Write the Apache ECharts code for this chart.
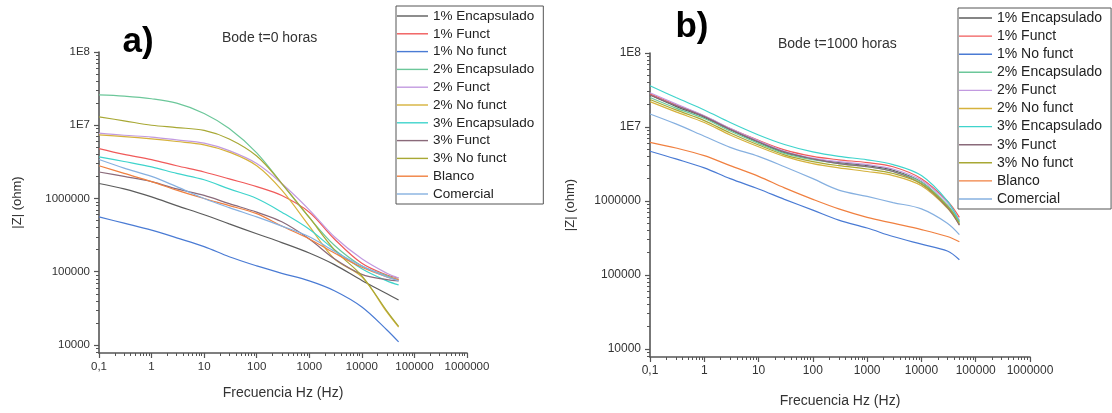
<!DOCTYPE html>
<html>
<head>
<meta charset="utf-8">
<script src="https://cdn.jsdelivr.net/npm/echarts@6/dist/echarts.min.js"></script>
<style>
  html, body { margin: 0; padding: 0; background: #fff; }
  #chart { width: 1112px; height: 413px; }
</style>
</head>
<body>
<div id="chart"></div>
<script>
// Frequencies (Hz) at which |Z| is tabulated
const freq = [0.1, 0.3, 1, 3, 10, 30, 100, 300, 1000, 3000, 10000, 30000, 50000];

const seriesNames = ['1% Encapsulado', '1% Funct', '1% No funct', '2% Encapsulado', '2% Funct',
  '2% No funct', '3% Encapsulado', '3% Funct', '3% No funct', 'Blanco', 'Comercial'];

const xTickLabels = ['0,1', '1', '10', '100', '1000', '10000', '100000', '1000000'];
const yTickLabels = ['10000', '100000', '1000000', '1E7', '1E8'];

// |Z| (ohm), t = 0 horas
const t0_enc1   = [1.6e6, 1.35e6, 1.05e6, 8.0e5, 6.0e5, 4.5e5, 3.3e5, 2.5e5, 1.8e5, 1.25e5, 7.6e4, 5.0e4, 4.1e4];
const t0_fun1   = [4.8e6, 4.0e6, 3.4e6, 2.8e6, 2.3e6, 1.85e6, 1.45e6, 1.1e6, 6.5e5, 2.8e5, 1.3e5, 9.0e4, 8.2e4];
const t0_nof1   = [5.6e5, 4.6e5, 3.7e5, 2.9e5, 2.2e5, 1.6e5, 1.2e5, 9.5e4, 7.5e4, 5.5e4, 3.3e4, 1.6e4, 1.1e4];
const t0_enc2   = [2.6e7, 2.5e7, 2.3e7, 2.0e7, 1.45e7, 9.0e6, 4.2e6, 1.6e6, 5.5e5, 2.3e5, 1.2e5, 8.8e4, 7.8e4];
const t0_fun2   = [7.8e6, 7.3e6, 6.9e6, 6.3e6, 5.7e6, 4.5e6, 3.0e6, 1.6e6, 7.0e5, 3.0e5, 1.5e5, 9.5e4, 8.2e4];
const t0_nof2   = [7.4e6, 7.0e6, 6.5e6, 6.0e6, 5.4e6, 4.3e6, 2.8e6, 1.3e6, 4.2e5, 1.5e5, 8.5e4, 2.8e4, 1.75e4];
const t0_enc3   = [3.7e6, 3.2e6, 2.7e6, 2.2e6, 1.8e6, 1.35e6, 1.0e6, 6.5e5, 3.8e5, 2.0e5, 1.1e5, 7.5e4, 6.6e4];
const t0_fun3   = [2.3e6, 2.0e6, 1.7e6, 1.35e6, 1.1e6, 8.5e5, 6.5e5, 4.8e5, 2.8e5, 1.5e5, 9.2e4, 7.8e4, 7.5e4];
const t0_nof3   = [1.3e7, 1.15e7, 1.0e7, 9.3e6, 8.5e6, 6.5e6, 3.8e6, 1.6e6, 5.5e5, 2.0e5, 8.8e4, 2.9e4, 1.8e4];
const t0_blanco = [2.8e6, 2.2e6, 1.7e6, 1.3e6, 1.0e6, 8.0e5, 6.2e5, 4.2e5, 2.8e5, 1.8e5, 1.15e5, 8.5e4, 7.8e4];
const t0_comer  = [3.4e6, 2.6e6, 2.0e6, 1.45e6, 1.0e6, 7.5e5, 5.6e5, 4.2e5, 3.0e5, 1.9e5, 1.2e5, 8.5e4, 7.5e4];

// |Z| (ohm), t = 1000 horas
const t1000_enc1   = [2.7e7, 1.9e7, 1.35e7, 9.2e6, 6.2e6, 4.5e6, 3.7e6, 3.3e6, 3.0e6, 2.6e6, 1.8e6, 8.5e5, 4.8e5];
const t1000_fun1   = [2.8e7, 2.0e7, 1.4e7, 9.5e6, 6.6e6, 4.9e6, 4.0e6, 3.6e6, 3.3e6, 2.9e6, 2.0e6, 1.0e6, 6.0e5];
const t1000_nof1   = [4.7e6, 3.7e6, 2.8e6, 2.0e6, 1.45e6, 1.05e6, 7.5e5, 5.5e5, 4.3e5, 3.3e5, 2.6e5, 2.1e5, 1.6e5];
const t1000_enc2   = [2.5e7, 1.8e7, 1.3e7, 8.8e6, 6.0e6, 4.4e6, 3.6e6, 3.2e6, 2.9e6, 2.5e6, 1.8e6, 8.8e5, 5.3e5];
const t1000_fun2   = [2.9e7, 2.05e7, 1.42e7, 9.6e6, 6.5e6, 4.7e6, 3.8e6, 3.4e6, 3.1e6, 2.7e6, 1.9e6, 9.5e5, 5.5e5];
const t1000_nof2   = [2.2e7, 1.6e7, 1.15e7, 7.8e6, 5.4e6, 4.0e6, 3.2e6, 2.8e6, 2.5e6, 2.2e6, 1.6e6, 8.0e5, 4.8e5];
const t1000_enc3   = [3.6e7, 2.5e7, 1.7e7, 1.15e7, 7.8e6, 5.8e6, 4.6e6, 4.0e6, 3.6e6, 3.1e6, 2.2e6, 1.0e6, 5.2e5];
const t1000_fun3   = [2.7e7, 1.95e7, 1.38e7, 9.3e6, 6.3e6, 4.6e6, 3.7e6, 3.2e6, 2.9e6, 2.5e6, 1.7e6, 8.2e5, 4.7e5];
const t1000_nof3   = [2.35e7, 1.7e7, 1.22e7, 8.3e6, 5.7e6, 4.2e6, 3.4e6, 3.0e6, 2.7e6, 2.35e6, 1.7e6, 8.5e5, 5.0e5];
const t1000_blanco = [6.2e6, 5.2e6, 4.1e6, 3.0e6, 2.15e6, 1.5e6, 1.05e6, 7.8e5, 6.0e5, 5.0e5, 4.1e5, 3.3e5, 2.8e5];
const t1000_comer  = [1.5e7, 1.1e7, 7.5e6, 5.3e6, 4.0e6, 2.9e6, 2.0e6, 1.4e6, 1.15e6, 9.5e5, 7.8e5, 5.0e5, 3.5e5];

const seriesColors = ['#5c5c5c', '#f05a5a', '#4a7bd4', '#6cc79a', '#c29ae0',
  '#d6b23c', '#3fd4cc', '#8a6a7a', '#a8a834', '#f08040', '#86b0e0'];

const panelT0 = [t0_enc1, t0_fun1, t0_nof1, t0_enc2, t0_fun2, t0_nof2, t0_enc3, t0_fun3, t0_nof3, t0_blanco, t0_comer];
const panelT1000 = [t1000_enc1, t1000_fun1, t1000_nof1, t1000_enc2, t1000_fun2, t1000_nof2, t1000_enc3, t1000_fun3, t1000_nof3, t1000_blanco, t1000_comer];

const FONT = 'Arial, "Liberation Sans", sans-serif';
const AXIS_COLOR = '#555';
const Y_MIN = Math.pow(10, 3.89);

// decade positions and the 2..9 minor positions in between
const xMajor = [0.1, 1, 10, 100, 1000, 10000, 100000, 1000000];
const yMajor = [1e4, 1e5, 1e6, 1e7, 1e8];
function minorsOf(majors) {
  const out = [];
  for (let i = 0; i < majors.length - 1; i++) {
    for (let k = 2; k <= 9; k++) out.push(+(majors[i] * k).toPrecision(6));
  }
  return out;
}
const xMinor = minorsOf(xMajor);
const yMinor = minorsOf(yMajor).concat([8e3, 9e3]);

function expOf(v) { return Math.round(Math.log10(v)); }

function xAxes(gridIndex, fontSize, nameGap) {
  return [
    {
      type: 'log', logBase: 10, gridIndex, position: 'bottom', min: 0.1, max: 1e6,
      name: 'Frecuencia Hz (Hz)', nameLocation: 'middle', nameGap,
      nameTextStyle: { fontFamily: FONT, fontSize: 14, color: '#333' },
      axisLine: { show: true, lineStyle: { color: AXIS_COLOR, width: 1.6 } },
      axisTick: { show: true, inside: false, length: 5, customValues: xMajor, lineStyle: { color: AXIS_COLOR, width: 1.2 } },
      axisLabel: { customValues: xMajor, margin: 8, fontFamily: FONT, fontSize, color: '#333',
        formatter: v => xTickLabels[expOf(v) + 1] },
      splitLine: { show: false }, minorTick: { show: false }
    },
    {
      type: 'log', logBase: 10, gridIndex, position: 'bottom', min: 0.1, max: 1e6,
      axisLine: { show: false },
      axisTick: { show: true, inside: false, length: 3, customValues: xMinor, lineStyle: { color: AXIS_COLOR, width: 1 } },
      axisLabel: { show: false }, splitLine: { show: false }
    }
  ];
}

function yAxes(gridIndex, fontSize, nameGap) {
  return [
    {
      type: 'log', logBase: 10, gridIndex, position: 'left', min: Y_MIN, max: 1e8,
      name: '|Z| (ohm)', nameLocation: 'middle', nameGap,
      nameTextStyle: { fontFamily: FONT, fontSize: 13, color: '#333' },
      axisLine: { show: true, lineStyle: { color: AXIS_COLOR, width: 1.6 } },
      axisTick: { show: true, inside: false, length: 5, customValues: yMajor, lineStyle: { color: AXIS_COLOR, width: 1.2 } },
      axisLabel: { customValues: yMajor, margin: 9, fontFamily: FONT, fontSize, color: '#333',
        formatter: v => yTickLabels[expOf(v) - 4] },
      splitLine: { show: false }, minorTick: { show: false }
    },
    {
      type: 'log', logBase: 10, gridIndex, position: 'left', min: Y_MIN, max: 1e8,
      axisLine: { show: false },
      axisTick: { show: true, inside: false, length: 3, customValues: yMinor, lineStyle: { color: AXIS_COLOR, width: 1 } },
      axisLabel: { show: false }, splitLine: { show: false }
    }
  ];
}

function buildSeries(panel, axisIndex) {
  return panel.map((vals, i) => ({
    name: seriesNames[i],
    type: 'line',
    xAxisIndex: axisIndex,
    yAxisIndex: axisIndex,
    data: freq.map((f, j) => [f, vals[j]]),
    smooth: 0.35,
    symbol: 'none',
    lineStyle: { width: 1.2, color: seriesColors[i] },
    itemStyle: { color: seriesColors[i] },
    emphasis: { disabled: true },
    animation: false
  }));
}

// legend swatches are thin rectangles so they read as short line samples
function legendBox(left, top, fontSize, gap, itemWidth, padRight) {
  return {
    data: seriesNames.map(n => ({ name: n, icon: 'rect' })),
    orient: 'vertical', left, top,
    selectedMode: false,
    backgroundColor: '#fff',
    borderColor: '#555', borderWidth: 1, borderRadius: 0,
    padding: [3, padRight, 3, 1],
    itemWidth, itemHeight: 1.4, itemGap: gap,
    textStyle: { fontFamily: FONT, fontSize, color: '#222', lineHeight: 14, padding: [0, 0, 0, 0] }
  };
}

const chart = echarts.init(document.getElementById('chart'), null, { renderer: 'canvas' });

chart.setOption({
  backgroundColor: '#ffffff',
  animation: false,
  grid: [
    { left: 99, top: 52, width: 368, height: 301, containLabel: false },
    { left: 650, top: 53, width: 380, height: 310, containLabel: false }
  ],
  xAxis: [...xAxes(0, 11.5, 33), ...xAxes(1, 12, 37)],
  yAxis: [...yAxes(0, 11.5, 75), ...yAxes(1, 12, 73)],
  legend: [
    legendBox(396, 6, 13.5, 3.8, 31, 9),
    legendBox(958, 8, 14, 4.1, 33, 9)
  ],
  graphic: [
    { type: 'text', x: 138, y: 42, style: { text: 'a)', font: 'bold 35px ' + FONT, fill: '#000', textAlign: 'center', textVerticalAlign: 'middle' } },
    { type: 'text', x: 222, y: 38, style: { text: 'Bode t=0 horas', font: '14px ' + FONT, fill: '#333', textAlign: 'left', textVerticalAlign: 'middle' } },
    { type: 'text', x: 692, y: 27, style: { text: 'b)', font: 'bold 35px ' + FONT, fill: '#000', textAlign: 'center', textVerticalAlign: 'middle' } },
    { type: 'text', x: 778, y: 44, style: { text: 'Bode t=1000 horas', font: '14px ' + FONT, fill: '#333', textAlign: 'left', textVerticalAlign: 'middle' } }
  ],
  series: [...buildSeries(panelT0, 0), ...buildSeries(panelT1000, 2)]
});
</script>
</body>
</html>
